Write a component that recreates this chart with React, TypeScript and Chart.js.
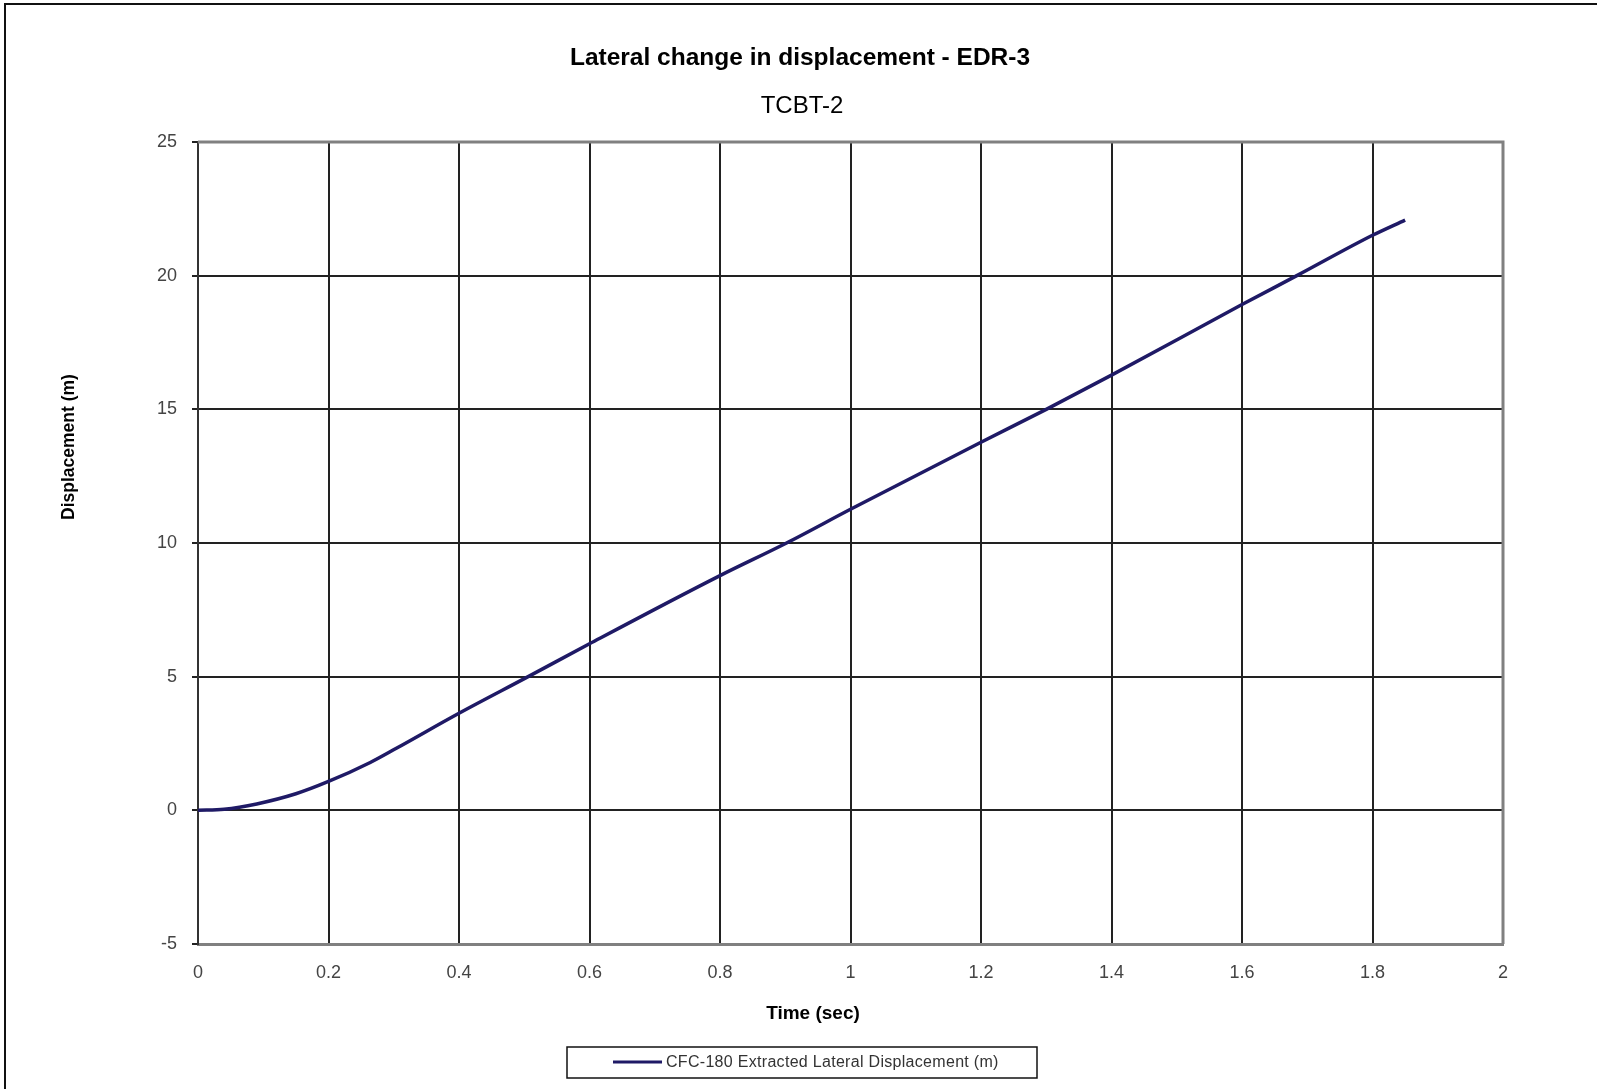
import React, { useEffect, useRef } from "react";
import { Chart, registerables } from "chart.js";

Chart.register(...registerables);

const chartTitle = "Lateral change in displacement - EDR-3";
const chartSubtitle = "TCBT-2";
const xAxisTitle = "Time (sec)";
const yAxisTitle = "Displacement (m)";
const seriesLabel = "CFC-180 Extracted Lateral Displacement (m)";

const timeSec = [0, 0.04, 0.09, 0.15, 0.2, 0.264, 0.304, 0.4, 0.506, 0.6, 0.8, 0.902, 1.0, 1.2, 1.3, 1.4, 1.6, 1.684, 1.8, 1.85];
const displacementM = [0, 0.04, 0.24, 0.62, 1.08, 1.79, 2.32, 3.63, 5.0, 6.23, 8.78, 10.0, 11.26, 13.77, 15.0, 16.28, 18.92, 20.0, 21.51, 22.08];

const xTickValues = [0, 0.2, 0.4, 0.6, 0.8, 1, 1.2, 1.4, 1.6, 1.8, 2];
const yTickValues = [-5, 0, 5, 10, 15, 20, 25];

const FONT = "'Liberation Sans', Arial, Helvetica, sans-serif";
const LINE_COLOR = "#1f1a66";
const W = 1597;
const H = 1089;

const decorPlugin = {
  id: "decor",
  beforeDatasetsDraw(chart: any) {
    const { ctx, chartArea: a } = chart;
    ctx.save();
    ctx.strokeStyle = "#808080";
    ctx.lineWidth = 3;
    ctx.beginPath();
    ctx.moveTo(a.left, a.top);
    ctx.lineTo(a.right, a.top);
    ctx.lineTo(a.right, a.bottom);
    ctx.stroke();
    ctx.restore();
  },
  afterDraw(chart: any) {
    const { ctx } = chart;
    ctx.save();
    // outer frame (top and left)
    ctx.strokeStyle = "#111";
    ctx.lineWidth = 2;
    ctx.beginPath();
    ctx.moveTo(W, 4);
    ctx.lineTo(5, 4);
    ctx.lineTo(5, H);
    ctx.stroke();

    ctx.fillStyle = "#000";
    ctx.textAlign = "center";
    ctx.textBaseline = "middle";
    ctx.font = `bold 24.5px ${FONT}`;
    ctx.fillText(chartTitle, 800, 58);
    ctx.font = `24px ${FONT}`;
    ctx.fillText(chartSubtitle, 802, 106);

    ctx.font = `bold 19px ${FONT}`;
    ctx.fillText(xAxisTitle, 813, 1014);

    ctx.save();
    ctx.translate(69, 447);
    ctx.rotate(-Math.PI / 2);
    ctx.font = `bold 17.5px ${FONT}`;
    ctx.fillText(yAxisTitle, 0, 0);
    ctx.restore();

    // legend
    const ds = chart.data.datasets[0];
    ctx.strokeStyle = "#111";
    ctx.lineWidth = 1.5;
    ctx.strokeRect(567, 1047, 470, 31);
    ctx.strokeStyle = ds.borderColor;
    ctx.lineWidth = 3;
    ctx.beginPath();
    ctx.moveTo(613, 1062);
    ctx.lineTo(662, 1062);
    ctx.stroke();
    ctx.fillStyle = "#333";
    ctx.textAlign = "left";
    ctx.font = `16px ${FONT}`;
    try {
      (ctx as any).letterSpacing = "0.3px";
    } catch (e) {}
    ctx.fillText(ds.label, 666, 1063);
    ctx.restore();
  },
};

export default function App() {
  const canvasRef = useRef<HTMLCanvasElement | null>(null);

  useEffect(() => {
    const canvas = canvasRef.current;
    if (!canvas) return;
    const chart = new Chart(canvas, {
      type: "line",
      data: {
        datasets: [
          {
            label: seriesLabel,
            data: timeSec.map((t, i) => ({ x: t, y: displacementM[i] })),
            borderColor: LINE_COLOR,
            backgroundColor: LINE_COLOR,
            borderWidth: 3.5,
            pointRadius: 0,
            cubicInterpolationMode: "monotone",
            fill: false,
          },
        ],
      },
      options: {
        responsive: false,
        animation: false,
        devicePixelRatio: 1,
        layout: { padding: { left: 128, right: 94, top: 142, bottom: 95 } },
        plugins: {
          legend: { display: false },
          title: { display: false },
          tooltip: { enabled: false },
        },
        scales: {
          x: {
            type: "linear",
            min: 0,
            max: 2,
            afterFit: (s: any) => {
              s.height = 50;
            },
            afterBuildTicks: (s: any) => {
              s.ticks = xTickValues.map((v) => ({ value: v }));
            },
            ticks: {
              color: "#444",
              font: { family: FONT, size: 18 },
              padding: 18,
              maxRotation: 0,
              autoSkip: false,
              callback: (v: any) => String(v),
            },
            grid: { color: "#222", lineWidth: 2, drawTicks: false },
            border: { color: "#808080", width: 3 },
          },
          y: {
            type: "linear",
            min: -5,
            max: 25,
            afterFit: (s: any) => {
              s.width = 70;
            },
            afterBuildTicks: (s: any) => {
              s.ticks = yTickValues.map((v) => ({ value: v }));
            },
            ticks: {
              color: "#444",
              font: { family: FONT, size: 18 },
              padding: 15,
              autoSkip: false,
              callback: (v: any) => String(v),
            },
            grid: { color: "#222", lineWidth: 2, drawTicks: true, tickLength: 6 },
            border: { color: "#333", width: 2 },
          },
        },
      },
      plugins: [decorPlugin],
    } as any);
    return () => chart.destroy();
  }, []);

  return (
    <div style={{ position: "fixed", left: 0, top: 0, width: W, height: H, background: "#fff" }}>
      <canvas ref={canvasRef} width={W} height={H} style={{ display: "block", width: W, height: H }} />
    </div>
  );
}
